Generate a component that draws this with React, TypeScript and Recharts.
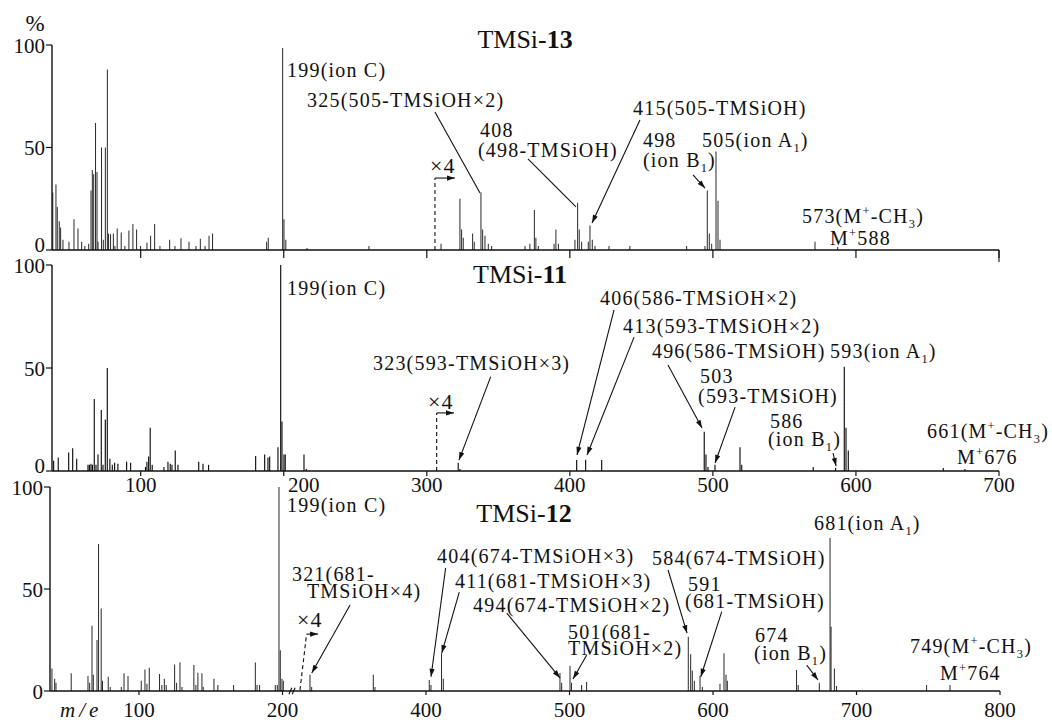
import React from 'react';
import { ComposedChart, Bar, XAxis, YAxis, ReferenceLine, ReferenceDot } from 'recharts';

const FONT = '"Liberation Serif", "DejaVu Serif", "Times New Roman", Times, serif';
const INK = '#111';

// TMSi-13 (top spectrum), m/e and relative intensity (%)
const TMSI13_MZ = [38.6, 40.8, 41.7, 43.1, 44.1, 45.7, 49.9, 53.4, 56.2, 58.8, 61, 63.7, 65.3, 66.2, 67.2, 68.5, 69.5, 70.2, 72.7, 73.9, 75.3, 76.7, 77.6, 79, 80.9, 82, 83.6, 86.4, 89, 91.8, 94.6, 97.2, 100, 104.4, 107, 109.8, 113.5, 120.3, 124, 128.2, 133.8, 138.7, 141.7, 145, 147.8, 150.3, 188.1, 189.2, 199.3, 200.2, 201.5, 216.3, 259.6, 310, 323.2, 324.4, 325.5, 332.1, 333.2, 337.9, 339.1, 340.7, 343, 345.4, 368.7, 372.1, 375.2, 376.3, 378, 389, 390.3, 392, 403.6, 405.5, 406.6, 408.3, 412.9, 414.1, 415.7, 417.6, 427.4, 442, 481.7, 494.5, 496.1, 497.5, 499.2, 502.2, 503.6, 505, 571.4, 587.3];
const TMSI13_INT = [28, 32, 21, 14, 11, 5, 4, 15, 10.5, 4, 2, 3, 29, 39, 37, 62, 38, 4, 50, 5, 50, 88, 8, 7.7, 8, 2, 10.5, 8.5, 2, 9.5, 12.7, 10, 2, 3.5, 7, 12.7, 2, 5, 2, 5.7, 4, 2, 5.5, 2, 7, 8, 4, 6, 98.5, 15, 5, 1, 2, 3, 25, 10, 6, 8, 4, 28, 10, 7, 3, 2, 2, 3, 19.5, 6, 2, 3, 10, 3, 5, 23, 10, 4, 4, 12, 5, 2, 2, 2, 2, 2, 29, 8, 3, 48, 24, 5, 4, 1.5];

// TMSi-11 (middle spectrum)
const TMSI11_MZ = [39.2, 42.4, 49.7, 52.5, 55.3, 63.2, 64.2, 65.3, 66.3, 67.6, 68.8, 70.2, 72.5, 73.7, 75.3, 76.7, 78.5, 80.2, 81.8, 84.1, 90.2, 93, 103.4, 104.4, 105.6, 106.7, 108.1, 116.3, 119.1, 120.7, 121.9, 124.2, 126.1, 140.6, 143.6, 147.5, 180.4, 186.7, 189, 190.2, 196, 197.9, 198.8, 200.2, 201.1, 214.2, 215.8, 322, 323.2, 404.8, 411.1, 422.3, 494, 495.2, 496.6, 501.5, 519, 520.2, 570.2, 585.8, 591.9, 593.1, 594.7, 661.1, 676.2];
const TMSI11_INT = [5, 6.5, 9, 11, 6, 3, 3, 3.5, 3, 35, 3, 8, 29.6, 3, 25, 50, 6, 3, 4, 3.5, 4.5, 4, 2, 4.5, 7, 21, 3, 2, 4.5, 3.5, 3, 10, 3, 4.5, 3.5, 3, 7.3, 8, 6.5, 7, 11.5, 100, 24, 8, 8, 8, 1, 4, 1, 5.3, 5.5, 5.3, 19, 8, 2, 3, 11.5, 3, 2, 1.5, 50.6, 21, 10, 1.5, 1];

// TMSi-12 (bottom spectrum, broken axis between ~210 and ~310)
const TMSI12_MZ = [39.4, 41.3, 42.2, 52.8, 64.5, 65.7, 67.3, 68.2, 70.8, 71.9, 73.7, 74.6, 78.6, 80, 87.7, 89.6, 92.4, 101.6, 104.2, 105.6, 107.2, 114.4, 116, 117.7, 119, 124.9, 126.3, 128.6, 130, 138.3, 139.7, 141.1, 143.9, 144.8, 152.3, 155, 166, 181.1, 182.3, 184.1, 195, 196.4, 197.6, 198.5, 199.7, 200.6, 319.2, 320.4, 363.3, 364.5, 402.3, 403.5, 410.9, 412.1, 493.4, 494.6, 500.4, 501.5, 508.5, 512, 582.8, 584.5, 585.6, 587, 591, 592.6, 604.9, 607.7, 609.1, 610, 658.3, 659.4, 674.1, 681.6, 682.3, 684.6, 686.2, 748.9, 765.2];
const TMSI12_INT = [11, 6, 4, 8.7, 7.4, 4, 32, 8, 25, 72, 40.5, 5, 7, 2, 2, 8.7, 7.4, 5, 10.6, 3.5, 11.4, 8.3, 3, 6, 3, 13, 4, 14, 2, 12.7, 3, 9, 8.7, 2, 6, 3, 3, 14, 3, 3, 3, 3, 100, 20, 6, 5, 8, 2, 8, 2, 5.4, 3, 18.5, 6, 8.8, 4, 12.4, 4, 3, 4.4, 26.6, 18, 10, 5, 7.5, 2, 3.5, 18.5, 8, 5, 10.3, 3, 4, 75, 31.5, 11, 2.5, 3, 3];

const Y_TICKS = [0, 50, 100];
const MZ_TICKS = [100, 200, 300, 400, 500, 600, 700];
const BOTTOM_TICKS = [100, 200, 400, 500, 600, 700, 800];

// the bottom axis skips 100 mass units after the break
const BREAK_AT = 260;
const BREAK_GAP = 100;
const brk = (m: number) => (m >= BREAK_AT ? m - BREAK_GAP : m);
const same = (m: number) => m;

type Ann = { x: number; y: number; lines: string[]; lh?: number; dx?: number[]; anchor?: 'start' | 'middle'; size?: number; spacing?: number };
type Leader = { from: [number, number]; to: [number, number]; arrow?: boolean; dash?: boolean };

const TOP_LABELS: Ann[] = [
  { x: 368.7, y: 98.5, lines: ['TMSi-*13*'], anchor: 'middle', size: 26, spacing: 0 },
  { x: 202.3, y: 84.4, lines: ['199(ion C)'] },
  { x: 216.3, y: 69.8, lines: ['325(505-TMSiOH×2)'] },
  { x: 337.2, y: 55.1, lines: ['408', '(498-TMSiOH)'], lh: 20, dx: [0, -2] },
  { x: 444.2, y: 65.9, lines: ['415(505-TMSiOH)'] },
  { x: 451.1, y: 50.2, lines: ['498', '(ion B{1})'], lh: 20 },
  { x: 492.4, y: 50.2, lines: ['505(ion A{1})'] },
  { x: 562.3, y: 13.2, lines: ['573(M^+-CH{3})'] },
  { x: 581.9, y: 2.4, lines: ['M^+588'] },
  { x: 302.2, y: 37.6, lines: ['×4'], size: 22 },
];
const TOP_LEADERS: Leader[] = [
  { from: [305.7, 67.3], to: [337.2, 27.8] },
  { from: [370.7, 44.4], to: [404.3, 21] },
  { from: [449, 63.4], to: [415.5, 13.2], arrow: true },
  { from: [486.1, 36.6], to: [494.5, 30.2], arrow: true },
  { from: [305.7, 0], to: [305.7, 35.1], dash: true },
  { from: [305.7, 35.1], to: [319.7, 35.1], arrow: true },
  { from: [700, 0], to: [700, -5.9] },
];

const MID_LABELS: Ann[] = [
  { x: 365.2, y: 91.3, lines: ['TMSi-*11*'], anchor: 'middle', size: 26, spacing: 0 },
  { x: 202.3, y: 85.4, lines: ['199(ion C)'] },
  { x: 262.4, y: 49, lines: ['323(593-TMSiOH×3)'] },
  { x: 421.1, y: 80.6, lines: ['406(586-TMSiOH×2)'] },
  { x: 437.2, y: 67, lines: ['413(593-TMSiOH×2)'] },
  { x: 457.4, y: 54.9, lines: ['496(586-TMSiOH)'] },
  { x: 581.9, y: 54.9, lines: ['593(ion A{1})'] },
  { x: 491, y: 42.7, lines: ['503', '(593-TMSiOH)'], lh: 20, dx: [0, -2] },
  { x: 539.9, y: 20.9, lines: ['586', '(ion B{1})'], lh: 18, dx: [0, -2] },
  { x: 649.7, y: 16, lines: ['661(M^+-CH{3})'] },
  { x: 670.6, y: 3.4, lines: ['M^+676'] },
  { x: 300.8, y: 30.1, lines: ['×4'], size: 22 },
];
const MID_LEADERS: Leader[] = [
  { from: [344.7, 45.8], to: [322.5, 5.3], arrow: true },
  { from: [430.9, 78.2], to: [405, 7.8], arrow: true },
  { from: [444.9, 65], to: [412, 7.8], arrow: true },
  { from: [468.6, 51.5], to: [492.4, 20.9], arrow: true },
  { from: [515.5, 31], to: [501.5, 3.9], arrow: true },
  { from: [584, 8.7], to: [586.1, 2.4], arrow: true },
  { from: [306.9, 0], to: [306.9, 28.2], dash: true },
  { from: [306.9, 28.2], to: [319, 28.2], arrow: true },
];

const BOT_LABELS: Ann[] = [
  { x: 468.3, y: 82.8, lines: ['TMSi-*12*'], anchor: 'middle', size: 26, spacing: 0 },
  { x: 203.2, y: 87.7, lines: ['199(ion C)'] },
  { x: 670.4, y: 78.9, lines: ['681(ion A{1})'] },
  { x: 407.7, y: 62.7, lines: ['404(674-TMSiOH×3)'] },
  { x: 420.2, y: 50.5, lines: ['411(681-TMSiOH×3)'] },
  { x: 432.8, y: 38.7, lines: ['494(674-TMSiOH×2)'] },
  { x: 499, y: 25.5, lines: ['501(681-', 'TMSiOH×2)'], lh: 16 },
  { x: 206.6, y: 53.9, lines: ['321(681-', 'TMSiOH×4)'], lh: 17, dx: [0, 15] },
  { x: 557.5, y: 61.8, lines: ['584(674-TMSiOH)'] },
  { x: 582.6, y: 49, lines: ['591', '(681-TMSiOH)'], lh: 17, dx: [0, -3] },
  { x: 629.3, y: 24, lines: ['674', '(ion B{1})'], lh: 18, dx: [0, -1] },
  { x: 737.3, y: 18.6, lines: ['749(M^+-CH{3})'] },
  { x: 758.2, y: 5.4, lines: ['M^+764'] },
  { x: 210.1, y: 31.4, lines: ['×4'], size: 22 },
];
const BOT_LEADERS: Leader[] = [
  { from: [347.1, 42.2], to: [320.4, 8.8], arrow: true },
  { from: [413.7, 60.3], to: [403.5, 7], arrow: true },
  { from: [423.2, 48.5], to: [411, 18.6], arrow: true },
  { from: [456.3, 38.2], to: [493.4, 6.4], arrow: true },
  { from: [512, 17.6], to: [502.5, 5.9], arrow: true },
  { from: [568.7, 59.3], to: [581.9, 28.4], arrow: true },
  { from: [606.1, 38.9], to: [591.5, 7], arrow: true },
  { from: [665.3, 12.7], to: [673.2, 5.4], arrow: true },
  { from: [312.2, 0.5], to: [316.8, 27.9], dash: true },
  { from: [316.8, 27.9], to: [324.8, 27.9], arrow: true },
  { from: [204.5, -1.6], to: [206.5, 1.6] },
  { from: [206.8, -1.6], to: [208.8, 1.6] },
];

const textStyle = { fontFamily: FONT };

function richSpans(s: string, size: number) {
  const parts = s.split(/(\{[^}]*\}|\^\+|\*[^*]*\*)/).filter((p) => p !== '');
  let cur = 0;
  return parts.map((p, i) => {
    let target = 0;
    let text = p;
    let fs: number | undefined;
    let fw: number | undefined;
    if (p.startsWith('{')) {
      target = size * 0.25;
      text = p.slice(1, -1);
      fs = size * 0.62;
    } else if (p === '^+') {
      target = -size * 0.38;
      text = '+';
      fs = size * 0.62;
    } else if (p.startsWith('*')) {
      text = p.slice(1, -1);
      fw = 700;
    }
    const dy = target - cur;
    cur = target;
    return (
      <tspan key={i} dy={dy || undefined} fontSize={fs} fontWeight={fw}>
        {text}
      </tspan>
    );
  });
}

const labelShape = (a: Ann) => (p: any) => {
  const size = a.size ?? 20;
  return (
    <g>
      {a.lines.map((ln, i) => (
        <text
          key={i}
          x={p.cx + (a.dx?.[i] ?? 0)}
          y={p.cy + i * (a.lh ?? 20)}
          style={textStyle}
          fontSize={size}
          letterSpacing={a.spacing ?? 1.2}
          textAnchor={a.anchor ?? 'start'}
          fill={INK}
        >
          {richSpans(ln, size)}
        </text>
      ))}
    </g>
  );
};

const leaderShape = (ld: Leader) => (p: any) => {
  const { x1, y1, x2, y2 } = p;
  const ang = Math.atan2(y2 - y1, x2 - x1);
  const L = 8;
  const W = 2.6;
  const bx = x2 - L * Math.cos(ang);
  const by = y2 - L * Math.sin(ang);
  const pts = `${x2},${y2} ${bx - W * Math.sin(ang)},${by + W * Math.cos(ang)} ${bx + W * Math.sin(ang)},${by - W * Math.cos(ang)}`;
  return (
    <g>
      <line x1={x1} y1={y1} x2={x2} y2={y2} stroke={INK} strokeWidth={1.1} strokeDasharray={ld.dash ? '4 3' : undefined} />
      {ld.arrow && <polygon points={pts} fill={INK} />}
    </g>
  );
};

const yTick = (zeroShift: number) => (p: any) => {
  const v = p.payload.value;
  return (
    <text x={p.x} y={p.y + (v === 0 ? zeroShift : 0)} dy="0.36em" textAnchor="end" style={textStyle} fontSize={21} fill={INK}>
      {v}
    </text>
  );
};

const noTick = () => <g />;

const midTick = (p: any) => (
  <text x={p.x + (p.payload.value === 200 ? 20 : 0)} y={p.y} dy="0.71em" textAnchor="middle" style={textStyle} fontSize={21} fill={INK}>
    {p.payload.value}
  </text>
);

const botTick = (p: any) => {
  const idx = BOTTOM_TICKS.map(brk).indexOf(p.payload.value);
  return (
    <text x={p.x} y={p.y} dy="0.71em" textAnchor="middle" style={textStyle} fontSize={21} fill={INK}>
      {BOTTOM_TICKS[idx]}
    </text>
  );
};

type PanelProps = {
  mz: number[];
  ints: number[];
  xMap: (m: number) => number;
  labels: Ann[];
  leaders: Leader[];
  height: number;
  top: number;
  bottom: number;
  right: number;
  yWidth: number;
  xHeight: number;
  xTicks: number[];
  xTick: any;
  tickSize: number;
  tickMargin: number;
  zeroShift: number;
};

function Panel(props: PanelProps) {
  const rows = props.mz.map((m, i) => ({ x: props.xMap(m), v: props.ints[i] }));
  return (
    <div style={{ position: 'absolute', left: 0, top: 0 }}>
      <ComposedChart
        width={1052}
        height={props.height}
        data={rows}
        margin={{ top: props.top, right: props.right, bottom: props.bottom, left: 0 }}
      >
        <XAxis
          type="number"
          dataKey="x"
          domain={[38, 700]}
          allowDataOverflow
          ticks={props.xTicks}
          interval={0}
          tick={props.xTick}
          tickSize={props.tickSize}
          tickMargin={props.tickMargin}
          tickLine={{ stroke: INK, strokeWidth: 1.2 }}
          axisLine={{ stroke: INK, strokeWidth: 1.4 }}
          height={props.xHeight}
        />
        <YAxis
          type="number"
          domain={[0, 100]}
          allowDataOverflow
          ticks={Y_TICKS}
          interval={0}
          width={props.yWidth}
          tickSize={6}
          tickMargin={1}
          tick={yTick(props.zeroShift)}
          tickLine={{ stroke: INK, strokeWidth: 1.2 }}
          axisLine={{ stroke: INK, strokeWidth: 1.4 }}
        />
        <Bar dataKey="v" fill={INK} barSize={2} isAnimationActive={false} />
        {props.leaders.map((ld, i) => (
          <ReferenceLine
            key={'ld' + i}
            segment={[
              { x: props.xMap(ld.from[0]), y: ld.from[1] },
              { x: props.xMap(ld.to[0]), y: ld.to[1] },
            ]}
            ifOverflow="visible"
            shape={leaderShape(ld)}
          />
        ))}
        {props.labels.map((a, i) => (
          <ReferenceDot key={'tx' + i} x={props.xMap(a.x)} y={a.y} r={0} ifOverflow="visible" shape={labelShape(a)} />
        ))}
      </ComposedChart>
    </div>
  );
}

export default function App() {
  return (
    <div style={{ position: 'absolute', left: 0, top: 0, width: 1052, height: 722, background: '#fff', overflow: 'hidden', fontFamily: FONT }}>
      <Panel
        mz={TMSI13_MZ}
        ints={TMSI13_INT}
        xMap={same}
        labels={TOP_LABELS}
        leaders={TOP_LEADERS}
        height={270}
        top={45}
        bottom={0}
        right={53}
        yWidth={52}
        xHeight={20}
        xTicks={MZ_TICKS}
        xTick={noTick}
        tickSize={8}
        tickMargin={0}
        zeroShift={-6}
      />
      <Panel
        mz={TMSI11_MZ}
        ints={TMSI11_INT}
        xMap={same}
        labels={MID_LABELS}
        leaders={MID_LEADERS}
        height={722}
        top={265}
        bottom={221}
        right={53}
        yWidth={52}
        xHeight={30}
        xTicks={MZ_TICKS}
        xTick={midTick}
        tickSize={5}
        tickMargin={1}
        zeroShift={-6}
      />
      <Panel
        mz={TMSI12_MZ}
        ints={TMSI12_INT}
        xMap={brk}
        labels={BOT_LABELS}
        leaders={BOT_LEADERS}
        height={722}
        top={487}
        bottom={0}
        right={52}
        yWidth={50}
        xHeight={31}
        xTicks={BOTTOM_TICKS.map(brk)}
        xTick={botTick}
        tickSize={4}
        tickMargin={7}
        zeroShift={0}
      />
      <svg width={1052} height={722} style={{ position: 'absolute', left: 0, top: 0, pointerEvents: 'none' }}>
        <text x={35} y={31} textAnchor="middle" style={textStyle} fontSize={23} fill={INK}>%</text>
        <text x={60} y={717} style={textStyle} fontSize={21} fontStyle="italic" letterSpacing={4} fill={INK}>m/e</text>
      </svg>
    </div>
  );
}
